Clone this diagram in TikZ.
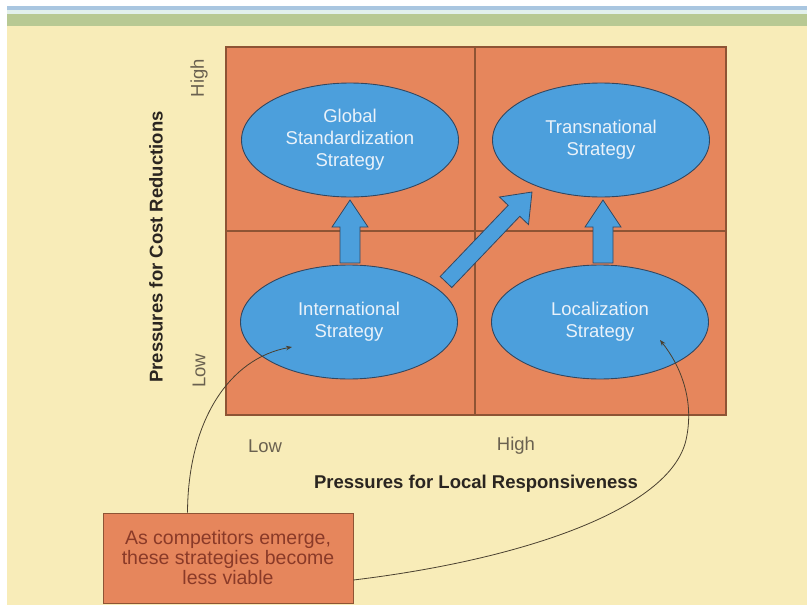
\documentclass[tikz,border=0pt]{standalone}
\usepackage{fontspec}
\setmainfont{Liberation Sans}
\usetikzlibrary{shapes.geometric,arrows.meta}
\definecolor{cream}{HTML}{F8ECB8}
\definecolor{gbar}{HTML}{B8C993}
\definecolor{bbar}{HTML}{A9C6E0}
\definecolor{lbar}{HTML}{E2F0EC}
\definecolor{quad}{HTML}{E6865C}
\definecolor{quadline}{HTML}{8E5434}
\definecolor{ellfill}{HTML}{4C9FDC}
\definecolor{elline}{HTML}{34475F}
\definecolor{elltext}{HTML}{EAF2FA}
\definecolor{axtext}{HTML}{6A6150}
\definecolor{bold}{HTML}{2A2520}
\definecolor{boxtext}{HTML}{8A3A28}
\definecolor{curve}{HTML}{4A4030}
\tikzset{
  strat/.style={ellipse, draw=elline, line width=0.9pt, fill=ellfill,
    minimum width=217pt, minimum height=114pt, inner sep=0pt,
    align=center, text=elltext, font=\fontsize{18.5}{22}\selectfont},
  blockarrow/.style={fill=ellfill, draw=elline, line width=0.8pt, line join=miter},
  axlabel/.style={text=axtext, font=\fontsize{18.5}{20}\selectfont, inner sep=0pt},
  axtitle/.style={text=bold, font=\bfseries\fontsize{18.5}{20}\selectfont, inner sep=0pt},
  notebox/.style={draw=quadline, line width=1pt, fill=quad, text=boxtext,
    minimum width=250pt, minimum height=90pt, inner sep=0pt, align=center,
    font=\fontsize{19.5}{20}\selectfont},
  connector/.style={draw=curve, line width=0.8pt, -{Stealth[length=6pt,width=4.5pt]}}
}
\begin{document}
\begin{tikzpicture}[x=1pt,y=-1pt]
\useasboundingbox (0,0) rectangle (807,605);
% background
\fill[white] (0,0) rectangle (807,605);
\fill[cream] (7,26) rectangle (807,605);
\fill[bbar] (7,6) rectangle (807,9.5);
\fill[lbar] (7,9.5) rectangle (807,14);
\fill[gbar] (7,14) rectangle (807,26);
% quadrants
\fill[quad] (226,47) rectangle (726,415);
\draw[quadline, line width=1.2pt] (226,47) rectangle (726,415);
\draw[quadline, line width=1.2pt] (475,47) -- (475,415);
\draw[quadline, line width=1.2pt] (226,231) -- (726,231);
% block arrows
\draw[blockarrow] (340,263) -- (340,227) -- (332,227) -- (350,200) -- (368,227) -- (360,227) -- (360,263) -- cycle;
\draw[blockarrow] (593,263) -- (593,227) -- (585,227) -- (603,200) -- (621,227) -- (613,227) -- (613,263) -- cycle;
\draw[blockarrow] (451.8,287.5) -- (519.8,216.3) -- (528.5,224.6) -- (532,192) -- (499.5,197.0) -- (508.2,205.3) -- (440.2,276.5) -- cycle;
% strategies
\node[strat] (gs) at (350,140) {Global\\Standardization\\Strategy};
\node[strat] (tn) at (601,140) {Transnational\\Strategy};
\node[strat] (in) at (349,322) {International\\Strategy};
\node[strat] (lo) at (600,322) {Localization\\Strategy};
% axis labels
\node[axlabel, rotate=90] (yh) at (199,78) {High};
\node[axlabel, rotate=90] (yl) at (199,371) {Low};
\node[axtitle, rotate=90] (yt) at (156,247) {Pressures for Cost Reductions};
\node[axlabel] (xl) at (265,446) {Low};
\node[axlabel] (xh) at (516,446) {High};
\node[axtitle] (xt) at (476,484) {Pressures for Local Responsiveness};
% note box
\node[notebox] (bx) at (228,558) {As competitors emerge,\\these strategies become\\less viable};
\coordinate (e1) at (292,347);
\coordinate (e2) at (660,340);
\draw[connector] ([xshift=85pt]bx.north west) .. controls (188,420) and (230,358) .. (e1);
\draw[connector] ([yshift=-22pt]bx.east) .. controls (520,560) and (670,510) .. (686,440) .. controls (695,400) and (680,365) .. (e2);
\end{tikzpicture}
\end{document}
